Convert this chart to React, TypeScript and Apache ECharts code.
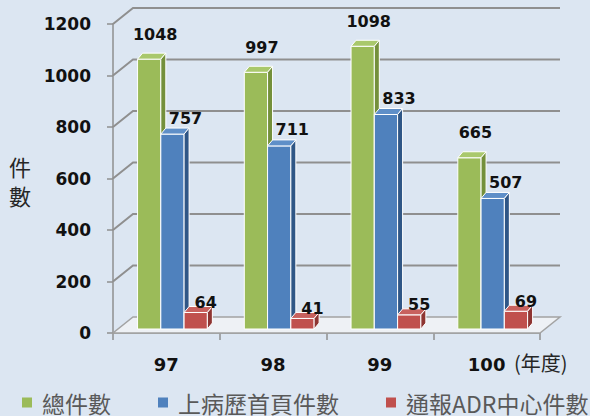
import React, { useEffect, useRef } from "react";
import * as echarts from "echarts";

const categories = ["97", "98", "99", "100"];
const totalCases = [1048, 997, 1098, 665];
const chartRecordCases = [757, 711, 833, 507];
const adrReportCases = [64, 41, 55, 69];
const seriesNames = ["總件數", "上病歷首頁件數", "通報ADR中心件數"];
const yTicks = [0, 200, 400, 600, 800, 1000, 1200];

const WALL_DX = 20;
const WALL_DY = -16;
const GRID_COLOR = "#8f8f8f";

function makeBarRender(idx: number, front: string, side: string, top: string, ldx: number, ldy: number) {
  return (_params: any, api: any) => {
    const ci = api.value(0);
    const v = api.value(1);
    const base = api.coord([ci, 0]);
    const tp = api.coord([ci, v]);
    const bw = api.size([1, 0])[0];
    const w = bw * 0.218;
    const x0 = base[0] - bw * 0.27 + idx * w;
    const x1 = x0 + w;
    const yb = base[1] - 4;
    const yt = tp[1] - 4;
    const dx = 5;
    const dy = -6;
    return {
      type: "group",
      children: [
        {
          type: "rect",
          shape: { x: x0, y: yt, width: w, height: yb - yt },
          style: { fill: front, stroke: "#ffffff", lineWidth: 1 },
        },
        {
          type: "polygon",
          shape: { points: [[x0, yt], [x1, yt], [x1 + dx, yt + dy], [x0 + dx, yt + dy]] },
          style: { fill: top, stroke: "#ffffff", lineWidth: 1 },
        },
        {
          type: "polygon",
          shape: { points: [[x1, yt], [x1 + dx, yt + dy], [x1 + dx, yb + dy], [x1, yb]] },
          style: { fill: side, stroke: "#ffffff", lineWidth: 1 },
        },
        {
          type: "text",
          x: (x0 + x1) / 2 + ldx,
          y: yt - ldy,
          style: {
            text: String(v),
            fill: "#111111",
            fontSize: 16,
            fontWeight: "bold",
            fontFamily: "DejaVu Sans",
            align: "center",
            verticalAlign: "middle",
          },
        },
      ],
    };
  };
}

function renderWall(_params: any, api: any) {
  const v = api.value(1);
  const p = api.coord([0, v]);
  const bw = api.size([1, 0])[0];
  const left = p[0] - bw / 2;
  const right = left + bw * categories.length;
  const y = p[1];
  if (v === 0) {
    return {
      type: "polygon",
      shape: {
        points: [
          [left, y],
          [right, y],
          [right + WALL_DX, y + WALL_DY],
          [left + WALL_DX, y + WALL_DY],
        ],
      },
      style: { fill: "#eef1f5", stroke: "#a3a3a3", lineWidth: 1.5 },
    };
  }
  return {
    type: "polyline",
    shape: {
      points: [
        [left, y],
        [left + WALL_DX, y + WALL_DY],
        [right + WALL_DX, y + WALL_DY],
      ],
    },
    style: { stroke: GRID_COLOR, lineWidth: 2, fill: null },
  };
}

export default function App() {
  const ref = useRef<HTMLDivElement>(null);
  useEffect(() => {
    if (!ref.current) return;
    const chart = echarts.init(ref.current, undefined, { renderer: "svg" });
    const barStyles = [
      { front: "#9bbb59", side: "#74903b", top: "#a9c86c", ldx: 6, ldy: 25 },
      { front: "#4f81bd", side: "#2f5686", top: "#5f8fc8", ldx: 13, ldy: 16 },
      { front: "#c0504d", side: "#8e3532", top: "#c8615e", ldx: 10, ldy: 10 },
    ];
    const seriesData = [totalCases, chartRecordCases, adrReportCases];
    chart.setOption({
      animation: false,
      backgroundColor: "#dce6f2",
      grid: { left: 113, right: 50, top: 24, bottom: 83 },
      legend: {
        data: seriesNames,
        left: 22,
        top: 391,
        width: 620,
        padding: 0,
        icon: "rect",
        itemWidth: 10,
        itemHeight: 10,
        itemGap: 47,
        textStyle: {
          fontSize: 23,
          lineHeight: 22,
          color: "#595959",
          fontFamily: "Noto Sans CJK TC",
          padding: [0, 0, 0, 5],
        },
      },
      xAxis: {
        type: "category",
        data: categories,
        axisLine: { show: true, lineStyle: { color: GRID_COLOR, width: 1.5 } },
        axisTick: { show: true, length: 7, lineStyle: { color: GRID_COLOR, width: 1.5 } },
        axisLabel: {
          margin: 22,
          color: "#111111",
          fontSize: 18,
          fontWeight: "bold",
          fontFamily: "DejaVu Sans",
        },
        splitLine: { show: false },
      },
      yAxis: {
        type: "value",
        min: 0,
        max: 1200,
        interval: 200,
        axisLine: { show: true, lineStyle: { color: GRID_COLOR, width: 1.5 } },
        axisTick: { show: true, length: 6, lineStyle: { color: GRID_COLOR, width: 1.5 } },
        axisLabel: {
          margin: 22,
          color: "#111111",
          fontSize: 17,
          fontWeight: "bold",
          fontFamily: "DejaVu Sans",
          formatter: (v: number) => String(v),
        },
        splitLine: { show: false },
      },
      graphic: [
        {
          type: "text",
          left: 9,
          top: 155,
          style: {
            text: "件",
            fontSize: 22,
            fill: "#262626",
            fontFamily: "Noto Sans CJK TC",
          },
        },
        {
          type: "text",
          left: 9,
          top: 184,
          style: {
            text: "數",
            fontSize: 22,
            fill: "#262626",
            fontFamily: "Noto Sans CJK TC",
          },
        },
        {
          type: "text",
          left: 514,
          top: 352,
          style: {
            text: "(年度)",
            fontSize: 20,
            fill: "#262626",
            fontFamily: "Noto Sans CJK TC",
          },
        },
      ],
      series: [
        {
          type: "custom",
          name: "wall",
          renderItem: renderWall,
          data: yTicks.map((t) => [0, t]),
          silent: true,
          z: 1,
        },
        ...seriesData.map((vals, i) => ({
          type: "custom",
          name: seriesNames[i],
          itemStyle: { color: barStyles[i].front },
          renderItem: makeBarRender(
            i,
            barStyles[i].front,
            barStyles[i].side,
            barStyles[i].top,
            barStyles[i].ldx,
            barStyles[i].ldy
          ),
          data: vals.map((v, ci) => [ci, v]),
          z: 3,
        })),
      ],
    });
    return () => chart.dispose();
  }, []);
  return (
    <div
      ref={ref}
      style={{ position: "absolute", left: 0, top: 0, width: 590, height: 416 }}
    />
  );
}
